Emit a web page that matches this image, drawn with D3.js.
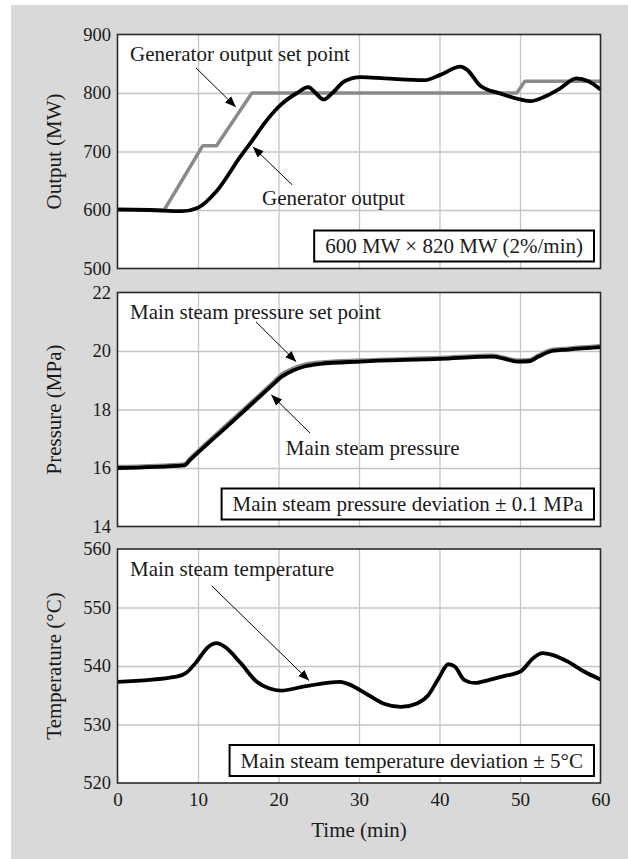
<!DOCTYPE html>
<html>
<head>
<meta charset="utf-8">
<script src="https://cdn.jsdelivr.net/npm/d3@7"></script>
<style>
  html, body { margin: 0; padding: 0; background: #fff; }
  svg { display: block; }
  svg text { font-family: "Liberation Serif", "Times New Roman", Tinos, Times, "DejaVu Serif", "Noto Serif", serif !important; fill: #1a1a1a; }
</style>
</head>
<body>
<svg id="chart" width="628" height="859"></svg>
<script>
// ---------- DATA ----------
const timeTicks = [0, 10, 20, 30, 40, 50, 60];
const outputTicks = [500, 600, 700, 800, 900];
const pressureTicks = [14, 16, 18, 20, 22];
const tempTicks = [520, 530, 540, 550, 560];

// Generator output (MW)
const outT  = [0, 4, 8, 10, 12.3, 15.3, 16.8, 18.3, 20.3, 22.3, 23.7, 24.6, 25.6, 26.7, 28.2, 30.2, 33.2, 38.2, 40.1, 42.6, 43.4, 45.1, 47.6, 50, 51.3, 53.1, 55, 57, 58.5, 60];
const outMW = [601, 600, 598, 604, 632, 692, 720, 749, 780, 800, 810, 800, 789, 800, 820, 827, 825, 822, 831, 845, 840, 812, 799, 789, 786, 794, 808, 825, 820, 806];
// Generator output set point (MW)
const spT  = [0, 5.8, 10.6, 12.3, 16.7, 49.6, 50.6, 60];
const spMW = [600, 600, 710, 710, 800, 800, 820, 820];

// Main steam pressure (MPa)
const pT   = [0, 8.3, 9, 14, 19.5, 20.3, 21.8, 23.2, 25.2, 30.2, 40.1, 46.6, 48.1, 49.6, 51.1, 52.3, 54, 56, 60];
const pMPa = [16.0, 16.09, 16.27, 17.52, 18.9, 19.1, 19.33, 19.47, 19.56, 19.64, 19.73, 19.81, 19.73, 19.64, 19.65, 19.81, 20.0, 20.05, 20.13];
// Main steam pressure set point (MPa)
const pspMPa = [16.04, 16.13, 16.32, 17.58, 18.97, 19.18, 19.4, 19.53, 19.61, 19.68, 19.77, 19.85, 19.77, 19.68, 19.69, 19.85, 20.04, 20.09, 20.17];

// Main steam temperature (°C)
const tT = [0, 7.35, 8.6, 9.8, 11.3, 12.3, 13.3, 15.3, 17.3, 18.8, 20.3, 23.2, 27.7, 28.7, 31.2, 33.2, 35.2, 37.2, 38.6, 39.9, 41.1, 41.9, 43.1, 44.4, 46.1, 48.1, 50.1, 51.6, 52.8, 54, 56, 57.9, 60];
const tC = [537.3, 538.2, 538.9, 540.7, 543.3, 543.9, 543.3, 540.5, 537.3, 536.2, 535.8, 536.5, 537.3, 536.9, 535.0, 533.5, 533.0, 533.6, 535.0, 537.9, 540.3, 539.9, 537.6, 537.1, 537.6, 538.3, 539.1, 541.3, 542.2, 541.9, 540.7, 539.1, 537.7];

// ---------- LAYOUT ----------
const FONT = '"Liberation Serif", "Times New Roman", Tinos, Times, "DejaVu Serif", "Noto Serif", serif';
const svg = d3.select("#chart");
svg.append("rect").attr("x", 11).attr("y", 5).attr("width", 628 - 11).attr("height", 859 - 5).attr("fill", "#d9d9d9");

const defs = svg.append("defs");
defs.append("marker").attr("id", "arr").attr("viewBox", "0 0 10 10").attr("refX", 10).attr("refY", 5)
  .attr("markerWidth", 11).attr("markerHeight", 11).attr("markerUnits", "userSpaceOnUse").attr("orient", "auto")
  .append("path").attr("d", "M0,1 L10,5 L0,9 Z").attr("fill", "#000");

const x = d3.scaleLinear().domain([0, 60]).range([117.5, 600.5]);

const panels = [
  { top: 34.5, bottom: 268.5, domain: [500, 900], ticks: outputTicks, title: "Output (MW)" },
  { top: 292.5, bottom: 526.5, domain: [14, 22], ticks: pressureTicks, title: "Pressure (MPa)" },
  { top: 549, bottom: 783, domain: [520, 560], ticks: tempTicks, title: "Temperature (°C)" }
];

panels.forEach(p => {
  p.y = d3.scaleLinear().domain(p.domain).range([p.bottom, p.top]);
  const g = svg.append("g");
  p.g = g;
  g.append("rect").attr("x", x(0)).attr("y", p.top).attr("width", x(60) - x(0)).attr("height", p.bottom - p.top).attr("fill", "#fff");
  const gridX = d3.axisBottom(x).tickValues(timeTicks.slice(1, -1)).tickSize(-(p.bottom - p.top)).tickFormat("");
  g.append("g").attr("transform", `translate(0,${p.bottom})`).call(gridX)
    .call(s => s.select(".domain").remove())
    .call(s => s.selectAll("line").attr("stroke", "#c4c4c4").attr("stroke-width", 1.3));
  const gridY = d3.axisLeft(p.y).tickValues(p.ticks.slice(1, -1)).tickSize(-(x(60) - x(0))).tickFormat("");
  g.append("g").attr("transform", `translate(${x(0)},0)`).call(gridY)
    .call(s => s.select(".domain").remove())
    .call(s => s.selectAll("line").attr("stroke", "#c4c4c4").attr("stroke-width", 1.3));
  const yAxis = d3.axisLeft(p.y).tickValues(p.ticks).tickSize(0).tickPadding(6.5);
  g.append("g").attr("transform", `translate(${x(0)},0)`).call(yAxis)
    .attr("font-family", FONT)
    .call(s => s.select(".domain").remove())
    .call(s => s.selectAll("text").attr("font-size", 18.5).attr("font-family", FONT).attr("fill", "#1a1a1a"));
  g.append("text").attr("transform", `translate(61,${(p.top + p.bottom) / 2}) rotate(-90)`)
    .attr("text-anchor", "middle").attr("font-family", FONT).attr("font-size", 21).text(p.title);
});

const xAxis = d3.axisBottom(x).tickValues(timeTicks).tickSize(0).tickPadding(10);
svg.append("g").attr("transform", `translate(0,${panels[2].bottom})`).call(xAxis)
  .attr("font-family", FONT)
  .call(s => s.select(".domain").remove())
  .call(s => s.selectAll("text").attr("font-size", 19).attr("font-family", FONT).attr("fill", "#1a1a1a"));
svg.append("text").attr("x", (x(0) + x(60)) / 2).attr("y", 837).attr("text-anchor", "middle")
  .attr("font-family", FONT).attr("font-size", 21).text("Time (min)");

// ---------- LINES ----------
function drawLine(p, ts, vs, color, width, curve) {
  const line = d3.line().x(d => x(d[0])).y(d => p.y(d[1])).curve(curve);
  p.g.append("path").datum(ts.map((t, i) => [t, vs[i]])).attr("d", line)
    .attr("fill", "none").attr("stroke", color).attr("stroke-width", width)
    .attr("stroke-linejoin", "round").attr("stroke-linecap", "butt");
}
const [P1, P2, P3] = panels;
drawLine(P1, spT, spMW, "#8a8a8a", 3.5, d3.curveLinear);
drawLine(P1, outT, outMW, "#000", 3.8, d3.curveMonotoneX);
drawLine(P2, pT, pspMPa, "#8a8a8a", 4, d3.curveMonotoneX);
drawLine(P2, pT, pMPa, "#000", 3.8, d3.curveMonotoneX);
drawLine(P3, tT, tC, "#000", 3.8, d3.curveMonotoneX);

panels.forEach(p => {
  p.g.append("rect").attr("x", x(0)).attr("y", p.top).attr("width", x(60) - x(0)).attr("height", p.bottom - p.top)
    .attr("fill", "none").attr("stroke", "#2a2a2a").attr("stroke-width", 1.6);
});

// ---------- ANNOTATIONS ----------
function label(p, t, v, txt) {
  p.g.append("text").attr("x", x(t)).attr("y", p.y(v)).attr("font-family", FONT).attr("font-size", 21).text(txt);
}
function arrow(p, t0, v0, t1, v1) {
  p.g.append("line").attr("x1", x(t0)).attr("y1", p.y(v0)).attr("x2", x(t1)).attr("y2", p.y(v1))
    .attr("stroke", "#000").attr("stroke-width", 1).attr("marker-end", "url(#arr)");
}
function box(p, txt) {
  const g = p.g.append("g");
  const r = g.append("rect");
  const tx = g.append("text").attr("font-family", FONT).attr("font-size", 21).attr("text-anchor", "end").text(txt);
  const w = tx.node().getComputedTextLength();
  const right = x(60) - 6.5, bottom = p.bottom - 7, h = 31;
  r.attr("x", right - w - 22).attr("y", bottom - h).attr("width", w + 22).attr("height", h)
    .attr("fill", "#fff").attr("stroke", "#000").attr("stroke-width", 2);
  tx.attr("x", right - 11).attr("y", bottom - 8.5);
}

label(P1, 1.55, 854, "Generator output set point");
arrow(P1, 9.75, 843, 14.7, 776);
label(P1, 17.95, 609, "Generator output");
arrow(P1, 21.7, 643, 16.8, 708);
box(P1, "600 MW × 820 MW (2%/min)");

label(P2, 1.55, 21.11, "Main steam pressure set point");
arrow(P2, 17.2, 21.0, 22.2, 19.63);
label(P2, 20.9, 16.46, "Main steam pressure");
arrow(P2, 23.9, 17.2, 19.1, 18.5);
box(P2, "Main steam pressure deviation ± 0.1 MPa");

label(P3, 1.55, 555.4, "Main steam temperature");
arrow(P3, 11.7, 553.7, 23.8, 537.5);
box(P3, "Main steam temperature deviation ± 5°C");
</script>
</body>
</html>
